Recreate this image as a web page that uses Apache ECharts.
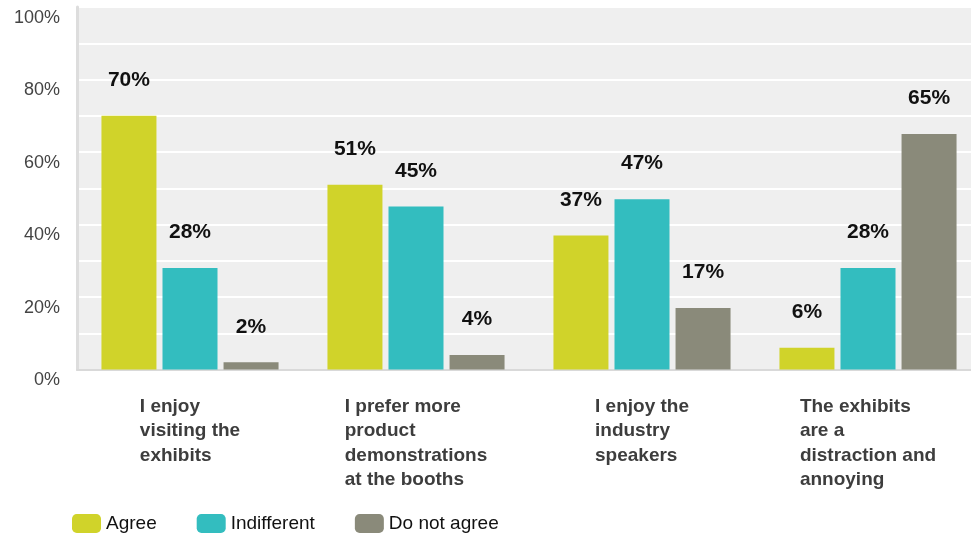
<!DOCTYPE html>
<html>
<head>
<meta charset="utf-8">
<script src="https://cdn.jsdelivr.net/npm/echarts@6/dist/echarts.min.js"></script>
<style>
  html, body { margin: 0; padding: 0; background: #ffffff; overflow: hidden; }
  /* the plot runs slightly past the right edge of the window */
  #chart { width: 981px; height: 535px; }
</style>
</head>
<body>
<div id="chart"></div>
<script>
// Survey statements (one line per row of the axis label)
const categories = [
  'I enjoy\nvisiting the\nexhibits',
  'I prefer more\nproduct\ndemonstrations\nat the booths',
  'I enjoy the\nindustry\nspeakers',
  'The exhibits\nare a\ndistraction and\nannoying'
];
const seriesNames = ['Agree', 'Indifferent', 'Do not agree'];
const agree = [70, 51, 37, 6];
const indifferent = [28, 45, 47, 28];
const notAgree = [2, 4, 17, 65];
const yLabelStep = 20; // percent labels every 20, grid lines every 10

const FONT = '"Liberation Sans", Arial, Helvetica, sans-serif';
const colors = ['#d0d32a', '#33bdbf', '#8a8a7a'];

const chart = echarts.init(document.getElementById('chart'), null, { renderer: 'canvas' });

function barSeries(name, data, color) {
  return {
    name: name,
    type: 'bar',
    data: data,
    barWidth: 55,
    barGap: '11%',
    itemStyle: { color: color },
    label: {
      show: true,
      position: 'top',
      distance: 25,
      formatter: '{c}%',
      fontFamily: FONT,
      fontSize: 21,
      fontWeight: 'bold',
      color: '#111111'
    }
  };
}

chart.setOption({
  animation: false,
  backgroundColor: '#ffffff',
  textStyle: { fontFamily: FONT },
  grid: {
    left: 77,
    top: 7,
    right: 0,
    height: 362.5,
    show: true,
    backgroundColor: '#efefef',
    borderWidth: 0,
    containLabel: false
  },
  legend: {
    left: 67,
    top: 509,
    itemWidth: 29,
    itemHeight: 19,
    itemGap: 40,
    icon: 'roundRect',
    data: seriesNames,
    textStyle: { fontFamily: FONT, fontSize: 19, color: '#111111', padding: [0, 0, 5, 0] }
  },
  xAxis: {
    type: 'category',
    data: categories,
    axisTick: { show: false },
    axisLine: { show: true, lineStyle: { color: '#d9d9d9', width: 2 } },
    axisLabel: {
      interval: 0,
      margin: 25,
      verticalAlign: 'top',
      formatter: function (v) {
        return v.split('\n').map(function (s) { return '{a|' + s + '}'; }).join('\n');
      },
      rich: {
        a: {
          align: 'left',
          fontFamily: FONT,
          fontSize: 19,
          fontWeight: 'bold',
          lineHeight: 24.5,
          color: '#3d3d3d'
        }
      }
    }
  },
  yAxis: {
    type: 'value',
    min: 0,
    max: 100,
    interval: 10,
    axisTick: { show: false },
    axisLine: { show: true, lineStyle: { color: '#dddddd', width: 3 } },
    splitLine: { show: true, lineStyle: { color: '#ffffff', width: 2 } },
    axisLabel: {
      margin: 17,
      verticalAlign: 'top',
      padding: [2, 0, 0, 0],
      fontFamily: FONT,
      fontSize: 18,
      color: '#444444',
      formatter: function (v) { return v % yLabelStep === 0 ? v + '%' : ''; }
    }
  },
  series: [
    barSeries(seriesNames[0], agree, colors[0]),
    barSeries(seriesNames[1], indifferent, colors[1]),
    barSeries(seriesNames[2], notAgree, colors[2])
  ]
});
</script>
</body>
</html>
